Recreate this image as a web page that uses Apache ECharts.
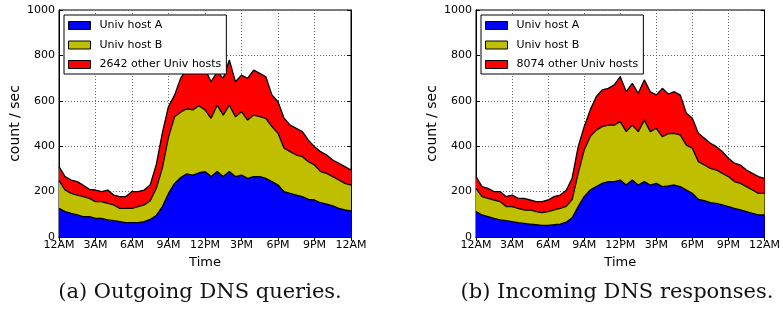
<!DOCTYPE html>
<html>
<head>
<meta charset="utf-8">
<script src="https://cdn.jsdelivr.net/npm/echarts@6/dist/echarts.min.js"></script>
<style>
html,body{margin:0;padding:0;background:#fff;}
#c{width:783px;height:310px;}
</style>
</head>
<body>
<div id="c"></div>
<script>
// time of day, one sample every 30 minutes
const times = ['00:00','00:30','01:00','01:30','02:00','02:30','03:00','03:30','04:00','04:30','05:00','05:30','06:00','06:30','07:00','07:30','08:00','08:30','09:00','09:30','10:00','10:30','11:00','11:30','12:00','12:30','13:00','13:30','14:00','14:30','15:00','15:30','16:00','16:30','17:00','17:30','18:00','18:30','19:00','19:30','20:00','20:30','21:00','21:30','22:00','22:30','23:00','23:30','24:00'];
const tickLabels = ['12AM','3AM','6AM','9AM','12PM','3PM','6PM','9PM','12AM'];
const yTicks = [0,200,400,600,800,1000];

const seriesNames = ['Univ host A','Univ host B'];
const otherNameA = '2642 other Univ hosts';
const otherNameB = '8074 other Univ hosts';

// (a) Outgoing DNS queries
const queriesHostA = [126,112,104,97,90,90,82,82,75,72,68,63,63,63,68,78,95,134,192,236,262,278,273,283,288,266,288,266,288,266,273,258,266,266,258,244,229,200,192,185,178,166,163,151,145,137,126,119,115];
const queriesHostB = [122,95,88,88,88,80,74,74,73,69,58,63,63,71,73,82,120,171,248,294,288,287,287,295,272,257,293,271,293,264,279,257,271,264,265,242,228,191,184,176,176,166,154,137,135,129,125,117,114];
const queriesOther = [62,59,59,59,50,40,51,44,59,44,52,52,74,66,66,70,105,155,135,95,150,175,175,167,180,161,147,162,199,154,161,184,198,191,183,140,139,132,117,118,110,95,81,88,81,73,74,74,66];

// (b) Incoming DNS responses
const respHostA = [112,97,90,82,75,72,68,63,60,57,54,51,51,54,57,65,85,134,178,207,222,236,244,244,251,229,251,229,244,229,236,222,225,229,222,207,192,166,160,151,148,141,134,126,119,112,104,97,97];
const respHostB = [102,81,80,81,81,62,66,63,59,62,58,56,61,65,69,70,80,146,205,235,249,250,249,249,257,235,242,235,271,235,243,220,230,228,227,198,199,166,157,151,147,139,132,118,117,110,103,95,95];
const respOther = [52,44,44,37,44,44,51,44,51,44,44,49,51,59,59,70,95,118,103,117,147,162,162,177,198,176,184,169,177,176,147,213,175,183,176,140,132,125,118,111,103,96,81,81,81,73,73,74,66];

const colA = '#0000ff', colB = '#bfbf00', colC = '#ff0000';
const font = 'DejaVu Sans';

const grids = [
  {left:59, top:10, width:292, height:227, show:true, borderColor:'#000', borderWidth:1, backgroundColor:'transparent'},
  {left:476, top:10, width:292, height:227, show:true, borderColor:'#000', borderWidth:1, backgroundColor:'transparent'}
];

function xAxes(gi){
  return [
    {type:'category', gridIndex:gi, data:times, boundaryGap:false, position:'bottom',
     axisLine:{show:true, lineStyle:{color:'#000', width:1}},
     axisTick:{show:true, inside:true, length:4, interval:5, lineStyle:{color:'#000'}},
     axisLabel:{show:true, interval:5, margin:3, color:'#000', fontFamily:font, fontSize:11,
       formatter:(v, i)=>tickLabels[Math.round(i/6)]},
     splitLine:{show:true, interval:5, lineStyle:{color:'#666', width:1, type:[1,2]}},
     name:'Time', nameLocation:'middle', nameGap:18,
     nameTextStyle:{color:'#000', fontFamily:font, fontSize:13}},
    {type:'category', gridIndex:gi, data:times, boundaryGap:false, position:'top',
     axisLine:{show:true, lineStyle:{color:'#000', width:1}},
     axisTick:{show:true, inside:true, length:4, interval:5, lineStyle:{color:'#000'}},
     axisLabel:{show:false}, splitLine:{show:false}}
  ];
}
function yAxes(gi){
  return [
    {type:'value', gridIndex:gi, min:0, max:1000, interval:200, position:'left',
     axisLine:{show:true, lineStyle:{color:'#000', width:1}},
     axisTick:{show:true, inside:true, length:4, lineStyle:{color:'#000'}},
     axisLabel:{show:true, margin:4, color:'#000', fontFamily:font, fontSize:11,
       formatter:(v)=> yTicks.indexOf(v) >= 0 ? String(v) : ''},
     splitLine:{show:true, lineStyle:{color:'#666', width:1, type:[1,2]}},
     name:'count / sec', nameLocation:'middle', nameGap:37, nameRotate:90,
     nameTextStyle:{color:'#000', fontFamily:font, fontSize:14}},
    {type:'value', gridIndex:gi, min:0, max:1000, interval:200, position:'right',
     axisLine:{show:true, lineStyle:{color:'#000', width:1}},
     axisTick:{show:true, inside:true, length:4, lineStyle:{color:'#000'}},
     axisLabel:{show:false}, splitLine:{show:false}}
  ];
}

function mkSeries(name, vals, color, xi, yi, stack){
  return {
    type:'line', name:name, xAxisIndex:xi, yAxisIndex:yi, stack:stack,
    data:vals, symbol:'none', smooth:false, animation:false,
    itemStyle:{color:color},
    lineStyle:{color:'#000', width:1.3},
    areaStyle:{color:color, opacity:1}
  };
}

function legend(leftPx, otherName){
  return {
    left:leftPx, top:15, orient:'vertical',
    backgroundColor:'#fff', borderColor:'#000', borderWidth:1, borderRadius:0,
    padding:[5,5,4,4], itemWidth:22, itemHeight:8, itemGap:8.5,
    textStyle:{color:'#000', fontFamily:font, fontSize:11, padding:[0,0,0,4]},
    icon:'rect',
    data:[
      {name:seriesNames[0], itemStyle:{color:colA, borderColor:'#000', borderWidth:1}},
      {name:seriesNames[1], itemStyle:{color:colB, borderColor:'#000', borderWidth:1}},
      {name:otherName, itemStyle:{color:colC, borderColor:'#000', borderWidth:1}}
    ],
    selectedMode:false
  };
}

const option = {
  animation:false,
  backgroundColor:'#fff',
  grid:grids,
  xAxis:[...xAxes(0), ...xAxes(1)],
  yAxis:[...yAxes(0), ...yAxes(1)],
  legend:[legend(64, otherNameA), legend(481, otherNameB)],
  series:[
    mkSeries(seriesNames[0], queriesHostA, colA, 0, 0, 'q'),
    mkSeries(seriesNames[1], queriesHostB, colB, 0, 0, 'q'),
    mkSeries(otherNameA, queriesOther, colC, 0, 0, 'q'),
    mkSeries(seriesNames[0], respHostA, colA, 2, 2, 'r'),
    mkSeries(seriesNames[1], respHostB, colB, 2, 2, 'r'),
    mkSeries(otherNameB, respOther, colC, 2, 2, 'r')
  ],
  graphic:[
    {type:'text', x:200, y:293, z:10,
     style:{text:'(a) Outgoing DNS queries.', fontFamily:'DejaVu Serif', fontSize:21, fill:'#111', align:'center', verticalAlign:'middle'}},
    {type:'text', x:617, y:293, z:10,
     style:{text:'(b) Incoming DNS responses.', fontFamily:'DejaVu Serif', fontSize:21, fill:'#111', align:'center', verticalAlign:'middle'}}
  ]
};

const chart = echarts.init(document.getElementById('c'), null, {renderer:'canvas'});
chart.setOption(option);
</script>
</body>
</html>
